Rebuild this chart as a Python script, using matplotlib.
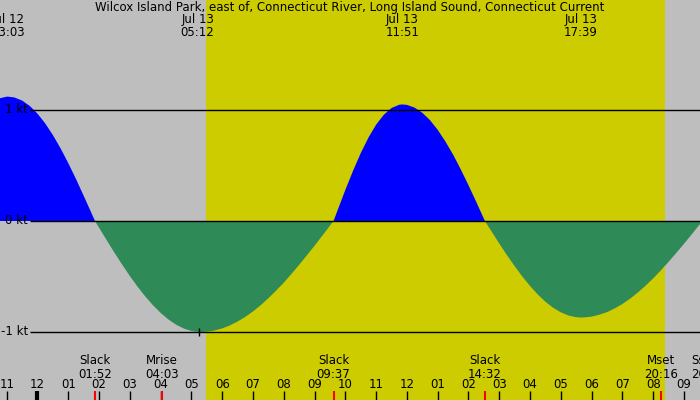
import numpy as np
import matplotlib
matplotlib.use('Agg')
import matplotlib.pyplot as plt

# current speed, hours from Jul 13 00:00, knots (+ flood, - ebb)
hours = [-1.25, -1.0, -0.95, -0.75, -0.5, -0.25, 0.0, 0.25, 0.5, 0.75, 1.0, 1.25, 1.5, 1.75, 1.867,
         2.0, 2.25, 2.5, 2.75, 3.0, 3.25, 3.5, 3.75, 4.0, 4.25, 4.5, 4.75, 5.0, 5.25, 5.3,
         5.5, 5.75, 6.0, 6.25, 6.5, 6.75, 7.0, 7.25, 7.5, 7.75, 8.0, 8.25, 8.5, 8.75, 9.0, 9.25, 9.5, 9.617,
         9.75, 10.0, 10.25, 10.5, 10.75, 11.0, 11.25, 11.5, 11.75, 11.85,
         12.0, 12.25, 12.5, 12.75, 13.0, 13.25, 13.5, 13.75, 14.0, 14.25, 14.5, 14.533,
         14.75, 15.0, 15.25, 15.5, 15.75, 16.0, 16.25, 16.5, 16.75, 17.0, 17.25, 17.5, 17.65,
         17.75, 18.0, 18.25, 18.5, 18.75, 19.0, 19.25, 19.5, 19.75, 20.0, 20.25, 20.5, 20.75,
         21.0, 21.25, 21.5, 21.6]
speed = [1.104, 1.12, 1.12, 1.113, 1.085, 1.036, 0.967, 0.879, 0.774, 0.654, 0.521, 0.378, 0.227, 0.073, 0.0,
         -0.061, -0.174, -0.286, -0.393, -0.496, -0.592, -0.680, -0.759, -0.828, -0.887, -0.934, -0.969, -0.991, -1.0, -1.0,
         -0.997, -0.987, -0.968, -0.941, -0.906, -0.864, -0.815, -0.759, -0.696, -0.628, -0.556, -0.477, -0.395, -0.309,
         -0.223, -0.133, -0.042, 0.0,
         0.098, 0.280, 0.452, 0.611, 0.751, 0.868, 0.957, 1.018, 1.047, 1.05,
         1.046, 1.021, 0.975, 0.908, 0.821, 0.716, 0.598, 0.464, 0.322, 0.173, 0.020, 0.0,
         -0.095, -0.203, -0.308, -0.407, -0.501, -0.586, -0.662, -0.728, -0.782, -0.823, -0.852, -0.867, -0.87,
         -0.869, -0.862, -0.845, -0.821, -0.788, -0.748, -0.700, -0.645, -0.584, -0.517, -0.445, -0.368, -0.288,
         -0.206, -0.121, -0.035, 0.0]

# max / min current labels along the top
peak_hours = [-0.95, 5.2, 11.85, 17.65]
peak_days = ['Jul 12', 'Jul 13', 'Jul 13', 'Jul 13']
peak_times = ['23:03', '05:12', '11:51', '17:39']

# slack and moon events along the bottom
event_hours = [1.867, 4.05, 9.617, 14.533, 20.267]
event_names = ['Slack', 'Mrise', 'Slack', 'Slack', 'Mset']
event_times = ['01:52', '04:03', '09:37', '14:32', '20:16']

sunrise = 5.47
sunset = 20.38

hour_ticks = list(range(-1, 22))
hour_labels = ['11', '12', '01', '02', '03', '04', '05', '06', '07', '08', '09', '10',
               '11', '12', '01', '02', '03', '04', '05', '06', '07', '08', '09']

levels = [1, 0, -1]
level_labels = ['1 kt', '0 kt', '-1 kt']

t = np.array(hours)
v = np.array(speed)

px = 30.79  # pixels per hour
fig = plt.figure(figsize=(7, 4), dpi=100)
ax = fig.add_axes([0, 0, 1, 1])
ax.set_xlim(-1.218, 21.52)
ax.set_ylim(-1.613, 1.991)
ax.axis('off')
ax.add_patch(plt.Rectangle((0, 0), 1, 1, transform=ax.transAxes, color='#bebebe', zorder=0))

ax.axvspan(sunrise, sunset, color='#cccc00', lw=0, zorder=1)

ax.fill_between(t, v, 0, where=v >= 0, interpolate=True, color='#0000ff', lw=0, zorder=2)
ax.fill_between(t, v, 0, where=v <= 0, interpolate=True, color='#2e8b57', lw=0, zorder=2)

fs = 8.5
x0 = ax.get_xlim()[0]
for lv, lab in zip(levels, level_labels):
    ax.hlines(lv, x0 + 30 / px, 21.6, color='black', lw=1, zorder=3)
    ax.text(x0 + 28 / px, lv, lab, fontsize=fs, va='center', ha='right', zorder=4)

# small mark at the lowest point of the ebb
imin = int(np.argmin(v))
ax.vlines(t[imin], v[imin] - 0.04, v[imin] + 0.04, color='black', lw=1, zorder=4)

trans = ax.get_xaxis_transform()

ax.text(0.5, 1 - 8 / 400, 'Wilcox Island Park, east of, Connecticut River, Long Island Sound, Connecticut Current',
        transform=ax.transAxes, ha='center', va='center', fontsize=fs)
for h, d, tm in zip(peak_hours, peak_days, peak_times):
    ax.text(h, 1 - 19 / 400, d, transform=trans, ha='center', va='center', fontsize=fs)
    ax.text(h, 1 - 32 / 400, tm, transform=trans, ha='center', va='center', fontsize=fs)

for h, n, tm in zip(event_hours, event_names, event_times):
    ax.text(h, 39 / 400, n, transform=trans, ha='center', va='center', fontsize=fs)
    ax.text(h, 26 / 400, tm, transform=trans, ha='center', va='center', fontsize=fs)
    ax.vlines(h, 0, 9 / 400, transform=trans, color='red', lw=1.5, zorder=5)

# sunset label pushed right of the moonset label
ax.text(21.22, 39 / 400, 'Sset', transform=trans, ha='left', va='center', fontsize=fs)
ax.text(21.22, 26 / 400, '20:23', transform=trans, ha='left', va='center', fontsize=fs)

for h, lab in zip(hour_ticks, hour_labels):
    ax.text(h, 15 / 400, lab, transform=trans, ha='center', va='center', fontsize=fs)
    ax.vlines(h, 0, 9 / 400, transform=trans, color='black', lw=3 if h == 0 else 1, zorder=4)

fig.savefig('out.png', dpi=100)
